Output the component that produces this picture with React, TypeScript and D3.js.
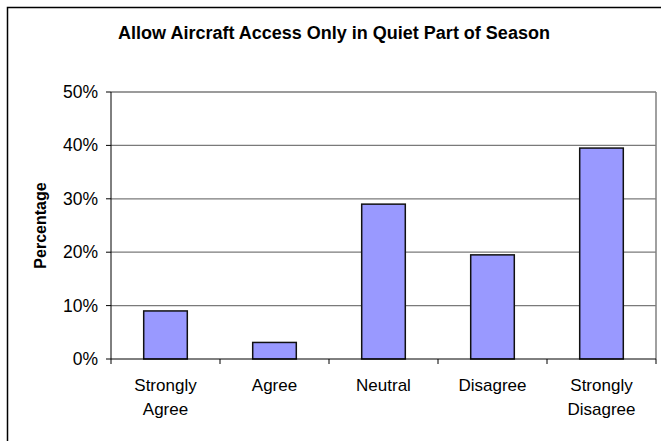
import React from "react";
import * as d3 from "d3";

const categories: string[][] = [
  ["Strongly", "Agree"],
  ["Agree"],
  ["Neutral"],
  ["Disagree"],
  ["Strongly", "Disagree"],
];
const values: number[] = [9, 3.1, 29, 19.5, 39.5];
const yTicks: number[] = [0, 10, 20, 30, 40, 50];
const title = "Allow Aircraft Access Only in Quiet Part of Season";
const yTitle = "Percentage";

export default function App() {
  const W = 661, H = 441;
  const left = 111, right = 656, top = 92, bottom = 359;
  const x = d3.scaleBand<number>().domain(categories.map((_, i) => i)).range([left, right]).paddingInner(0.6).paddingOuter(0.3);
  const band = d3.scaleBand<number>().domain(categories.map((_, i) => i)).range([left, right]);
  const y = d3.scaleLinear().domain([0, 50]).range([bottom, top]);
  const font = "Arial, 'Liberation Sans', sans-serif";
  return (
    <svg width={W} height={H} style={{ position: "absolute", left: 0, top: 0, background: "#fff" }} fontFamily={font}>
      <rect x={7.5} y={7.5} width={W + 5} height={H + 5} fill="#fff" stroke="#000" strokeWidth={1.5} />
      <text x={334} y={39} textAnchor="middle" fontSize={18} fontWeight="bold">{title}</text>
      {yTicks.map((t) => (
        <g key={t}>
          {t > 0 && <line x1={left} x2={right} y1={y(t)} y2={y(t)} stroke="#7a7a7a" strokeWidth={1.3} />}
          <line x1={left - 5} x2={left} y1={y(t)} y2={y(t)} stroke="#000" />
          <text x={left - 13} y={y(t) + 6} textAnchor="end" fontSize={17.5}>{`${t}%`}</text>
        </g>
      ))}
      <line x1={right} x2={right} y1={top} y2={bottom} stroke="#808080" strokeWidth={1.5} />
      {values.map((v, i) => (
        <rect key={i} x={x(i)!} y={y(v)} width={x.bandwidth()} height={bottom - y(v)} fill="#9999ff" stroke="#111" strokeWidth={1.5} />
      ))}
      <line x1={left} x2={left} y1={top} y2={bottom} stroke="#000" />
      <line x1={left} x2={right} y1={bottom} y2={bottom} stroke="#000" />
      {d3.range(categories.length + 1).map((i) => {
        const xx = i < categories.length ? band(i)! : right;
        return <line key={i} x1={xx} x2={xx} y1={bottom} y2={bottom + 5} stroke="#000" />;
      })}
      {categories.map((lines, i) => (
        <text key={i} x={band(i)! + band.bandwidth() / 2} textAnchor="middle" fontSize={17}>
          {lines.map((l, j) => (
            <tspan key={j} x={band(i)! + band.bandwidth() / 2} y={391 + j * 24}>{l}</tspan>
          ))}
        </text>
      ))}
      <text transform={`translate(46,${(top + bottom) / 2}) rotate(-90)`} textAnchor="middle" fontSize={16} fontWeight="bold">{yTitle}</text>
    </svg>
  );
}
